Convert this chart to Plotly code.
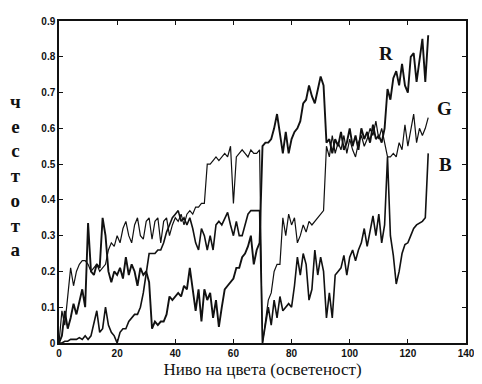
import plotly.graph_objects as go

levels = list(range(128))

r_values = [
    0.0, 0.02, 0.09, 0.04, 0.07, 0.11, 0.08, 0.12, 0.15, 0.1,
    0.335, 0.2, 0.19, 0.22, 0.21, 0.35, 0.3, 0.2, 0.17, 0.2,
    0.19, 0.21, 0.18, 0.24, 0.19, 0.22, 0.2, 0.16, 0.21, 0.19,
    0.2, 0.17, 0.04, 0.06, 0.05, 0.06, 0.06, 0.08, 0.13, 0.12,
    0.13, 0.14, 0.13, 0.16, 0.15, 0.21, 0.15, 0.09, 0.15, 0.06,
    0.15, 0.12, 0.14, 0.07, 0.12, 0.045, 0.1, 0.15, 0.16, 0.17,
    0.18, 0.21, 0.21, 0.24, 0.25, 0.27, 0.3, 0.22, 0.26, 0.28,
    0.55, 0.56, 0.56, 0.57, 0.6, 0.64, 0.59, 0.53, 0.59, 0.53,
    0.57, 0.59, 0.6, 0.62, 0.67, 0.68, 0.72, 0.69, 0.67, 0.71,
    0.745, 0.72, 0.56, 0.57, 0.53, 0.57, 0.55, 0.59, 0.54, 0.56,
    0.6, 0.55, 0.58, 0.54, 0.6, 0.57, 0.59, 0.56, 0.61, 0.57,
    0.58, 0.56, 0.6, 0.71, 0.68, 0.74, 0.76, 0.72, 0.78, 0.72,
    0.7, 0.8, 0.81, 0.73, 0.79, 0.85, 0.73, 0.86,
]

g_values = [
    0.0, 0.09, 0.05, 0.14, 0.21, 0.16, 0.2, 0.22, 0.23, 0.23,
    0.22, 0.2, 0.21, 0.22, 0.2, 0.21, 0.22, 0.26, 0.28, 0.27,
    0.3, 0.28, 0.32, 0.34, 0.3, 0.28, 0.33, 0.35, 0.3, 0.29,
    0.34, 0.35, 0.29, 0.34, 0.35, 0.28, 0.34, 0.35, 0.3, 0.33,
    0.35, 0.34, 0.36, 0.33, 0.36, 0.37, 0.36, 0.38, 0.38, 0.39,
    0.39, 0.5, 0.5, 0.51, 0.52, 0.51, 0.52, 0.53, 0.52, 0.55,
    0.39, 0.52, 0.53, 0.54, 0.53, 0.52, 0.54, 0.53, 0.53, 0.54,
    0.0, 0.06, 0.12, 0.14, 0.2, 0.22, 0.22, 0.35, 0.3, 0.36,
    0.33, 0.35, 0.28, 0.3, 0.33, 0.31, 0.34, 0.33, 0.34, 0.35,
    0.36, 0.37, 0.55, 0.52, 0.58, 0.53, 0.56, 0.54, 0.58, 0.53,
    0.57, 0.54, 0.52, 0.56, 0.58, 0.55, 0.57, 0.6, 0.58, 0.62,
    0.57, 0.6, 0.56, 0.52, 0.52, 0.53, 0.52, 0.56, 0.54, 0.61,
    0.55, 0.59, 0.64, 0.56, 0.6, 0.58, 0.6, 0.63,
]

b_values = [
    0.0, 0.0, 0.005, 0.005, 0.01, 0.01, 0.01, 0.015, 0.01, 0.02,
    0.01, 0.02, 0.06, 0.09, 0.03, 0.04, 0.1, 0.05, 0.03, 0.02,
    0.0, 0.03, 0.04, 0.04, 0.06, 0.07, 0.08, 0.08, 0.1, 0.14,
    0.2, 0.25, 0.25, 0.25, 0.26, 0.26, 0.28, 0.31, 0.33, 0.35,
    0.36, 0.37, 0.34, 0.35, 0.33, 0.35, 0.32, 0.28, 0.26, 0.32,
    0.3, 0.26, 0.3, 0.26, 0.33, 0.34, 0.33, 0.35, 0.365, 0.33,
    0.3, 0.34, 0.3, 0.3, 0.33, 0.36, 0.37, 0.37, 0.37, 0.37,
    0.0, 0.05, 0.1, 0.05, 0.12, 0.07, 0.13, 0.09, 0.1, 0.11,
    0.1, 0.16, 0.24, 0.19, 0.25, 0.22, 0.12, 0.15, 0.26, 0.19,
    0.24, 0.2, 0.07, 0.14, 0.07, 0.19, 0.2, 0.21, 0.245, 0.19,
    0.24, 0.26, 0.23, 0.26, 0.28, 0.32, 0.27, 0.31, 0.355, 0.3,
    0.36, 0.28, 0.33, 0.52, 0.3, 0.245, 0.165, 0.2, 0.25, 0.275,
    0.28, 0.3, 0.32, 0.33, 0.335, 0.34, 0.35, 0.53,
]

x_ticks = [0, 20, 40, 60, 80, 100, 120, 140]
y_ticks = [0, 0.1, 0.2, 0.3, 0.4, 0.5, 0.6, 0.7, 0.8, 0.9]
y_tick_text = ["0", "0.1", "0.2", "0.3", "0.4", "0.5", "0.6", "0.7", "0.8", "0.9"]

labels = ["R", "G", "B"]
label_x = [112.5, 132.5, 133]
label_y = [0.81, 0.655, 0.50]

fig = go.Figure()
fig.add_trace(go.Scatter(x=levels, y=g_values, mode="lines",
                         line=dict(color="#111111", width=1.2), showlegend=False))
fig.add_trace(go.Scatter(x=levels, y=b_values, mode="lines",
                         line=dict(color="#111111", width=1.6), showlegend=False))
fig.add_trace(go.Scatter(x=levels, y=r_values, mode="lines",
                         line=dict(color="#111111", width=1.9), showlegend=False))

for t, lx, ly in zip(labels, label_x, label_y):
    fig.add_annotation(x=lx, y=ly, text="<b>" + t + "</b>", showarrow=False,
                       font=dict(family="Liberation Serif", size=19, color="#111111"))

fig.add_annotation(xref="paper", yref="paper", x=-0.107, y=0.52,
                   xanchor="center", yanchor="middle",
                   text="<b>ч<br>е<br>с<br>т<br>о<br>т<br>а</b>", showarrow=False,
                   font=dict(family="Liberation Serif", size=19, color="#111111"),
                   align="center")

axis_common = dict(showgrid=False, zeroline=False, showline=True, linecolor="#111111",
                   linewidth=1.5, mirror="ticks", ticks="inside", ticklen=4,
                   tickcolor="#111111",
                   tickfont=dict(family="Liberation Sans", size=10, color="#111111", weight="bold"))

fig.update_xaxes(range=[0, 140], tickvals=x_ticks, **axis_common,
                 title=dict(text="Ниво на цвета (осветеност)", standoff=5,
                            font=dict(family="Liberation Serif", size=17, color="#111111")))
fig.update_yaxes(range=[0, 0.9], tickvals=y_ticks, ticktext=y_tick_text, **axis_common)

# the page body has an 8 px default margin, so the figure is sized to fit the window
fig.update_layout(width=474, height=376, margin=dict(l=51, r=10, t=7, b=41),
                  paper_bgcolor="white", plot_bgcolor="white")

fig.write_html("out.html")
